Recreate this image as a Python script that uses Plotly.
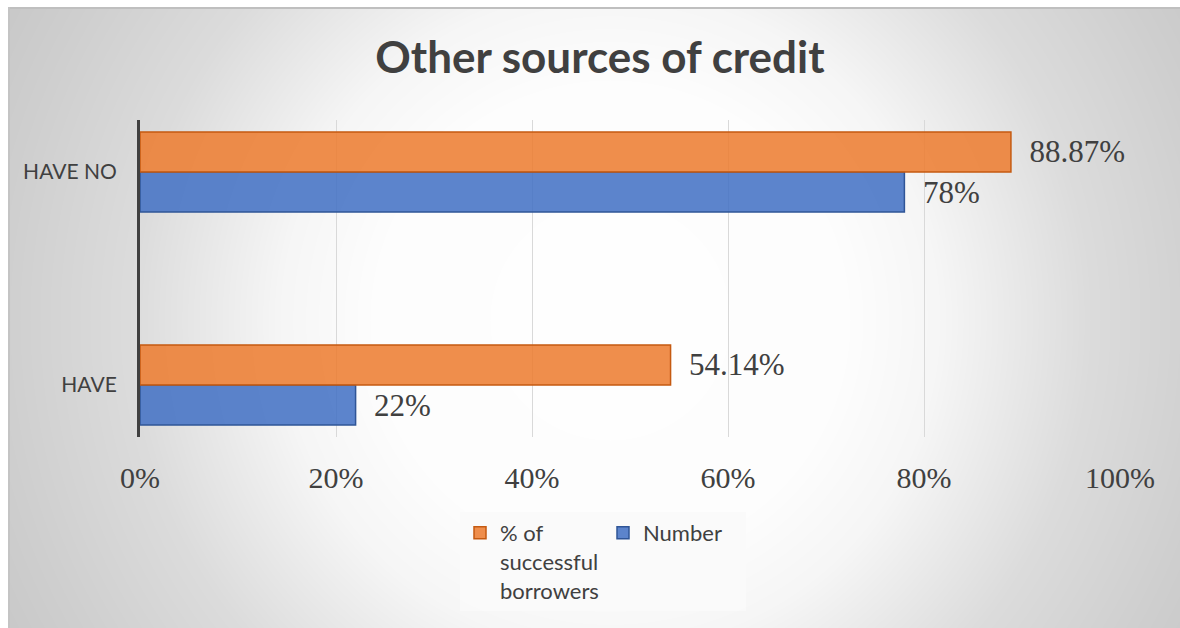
import base64
import struct
import zlib

import numpy as np
import plotly.graph_objects as go

# ---- data -------------------------------------------------------------
categories = ["HAVE", "HAVE NO"]
pct_successful = [54.14, 88.87]   # % of successful borrowers
number_share = [22, 78]           # Number
series_names = ["% of<br>successful<br>borrowers", "Number"]
tick_values = [0, 20, 40, 60, 80, 100]
tick_labels = [f"{v}%" for v in tick_values]

# ---- page geometry (pixels) -------------------------------------------
W, H = 1180, 628
ML, MR, MT, MB = 140, 60, 120, 191
PW, PH = W - ML - MR, H - MT - MB
FRAME_X0, FRAME_Y0 = 8, 7

TEXT = "#404040"
SANS = "Lato"
SERIF = "Liberation Serif"


def radial_background(w, h, cx, cy):
    """Grey radial gradient (light centre, darker edges) as a PNG data URI."""
    yy, xx = np.mgrid[0:h, 0:w].astype(float)
    r = np.hypot(xx - cx, yy - cy)
    g = np.interp(r, [0, 240, 330, 480, 610, 700, 800],
                  [255, 253, 246, 220, 207, 199, 195])
    img = g.astype(np.uint8)
    img[0:2, :] = 191
    img[:, 0:2] = 196
    raw = b"".join(b"\x00" + row.tobytes() for row in img)

    def chunk(tag, data):
        return (struct.pack(">I", len(data)) + tag + data
                + struct.pack(">I", zlib.crc32(tag + data) & 0xFFFFFFFF))

    png = (b"\x89PNG\r\n\x1a\n"
           + chunk(b"IHDR", struct.pack(">IIBBBBB", w, h, 8, 0, 0, 0, 0))
           + chunk(b"IDAT", zlib.compress(raw, 9))
           + chunk(b"IEND", b""))
    return "data:image/png;base64," + base64.b64encode(png).decode()


bg_w, bg_h = W - FRAME_X0, H - FRAME_Y0
bg_uri = radial_background(bg_w, bg_h, 610 - FRAME_X0, 320 - FRAME_Y0)

pad = "\u00a0\u00a0"
label_font = dict(family=SERIF, size=31, color=TEXT)
fig = go.Figure()
fig.add_trace(go.Bar(
    y=categories, x=number_share, orientation="h", name=series_names[1],
    marker=dict(color="rgba(68,114,196,0.87)",
                line=dict(color="#2F5597", width=1.5)),
    text=[f"{pad}{v:.0f}%" for v in number_share],
    textposition="outside", constraintext="none", cliponaxis=False,
    textfont=label_font,
))
fig.add_trace(go.Bar(
    y=categories, x=pct_successful, orientation="h", name=series_names[0],
    marker=dict(color="rgba(237,125,49,0.87)",
                line=dict(color="#C55A11", width=1.5)),
    text=[f"{pad}{v:.2f}%" for v in pct_successful],
    textposition="outside", constraintext="none", cliponaxis=False,
    textfont=label_font,
))

fig.update_layout(
    width=W, height=H,
    margin=dict(l=ML, r=MR, t=MT, b=MB, pad=0),
    paper_bgcolor="white", plot_bgcolor="rgba(0,0,0,0)",
    barmode="group", bargap=0.624, bargroupgap=0,
    showlegend=True,
    title=dict(text="Other sources of credit", x=600 / W, xref="container",
               xanchor="center", y=1 - 58 / H, yanchor="middle",
               font=dict(family=SANS, size=44, color=TEXT, weight="bold")),
    legend=dict(orientation="h", traceorder="reversed",
                x=(603 - ML) / PW, xanchor="center",
                y=-(512 - (H - MB)) / PH, yanchor="top",
                bgcolor="rgba(250,250,250,0.9)", borderwidth=0,
                entrywidth=98, valign="top",
                font=dict(family=SANS, size=22, color=TEXT)),
    images=[dict(source=bg_uri, xref="paper", yref="paper",
                 x=(FRAME_X0 - ML) / PW, y=((H - MB) - FRAME_Y0) / PH,
                 sizex=bg_w / PW, sizey=bg_h / PH,
                 xanchor="left", yanchor="top", sizing="stretch",
                 layer="below")],
)

fig.update_xaxes(range=[0, 100], tickmode="array", tickvals=tick_values,
                 ticktext=tick_labels,
                 showgrid=True, gridcolor="#d9d9d9", gridwidth=1.3,
                 zeroline=False, showline=False, ticks="",
                 ticklabelstandoff=20,
                 tickfont=dict(family=SERIF, size=30, color=TEXT))
fig.update_yaxes(range=[-0.244, 1.244], showgrid=False, zeroline=False,
                 showline=True, linecolor=TEXT, linewidth=3, ticks="",
                 ticklabelstandoff=16,
                 tickfont=dict(family=SANS, size=21, color=TEXT))

fig.write_html("out.html")
